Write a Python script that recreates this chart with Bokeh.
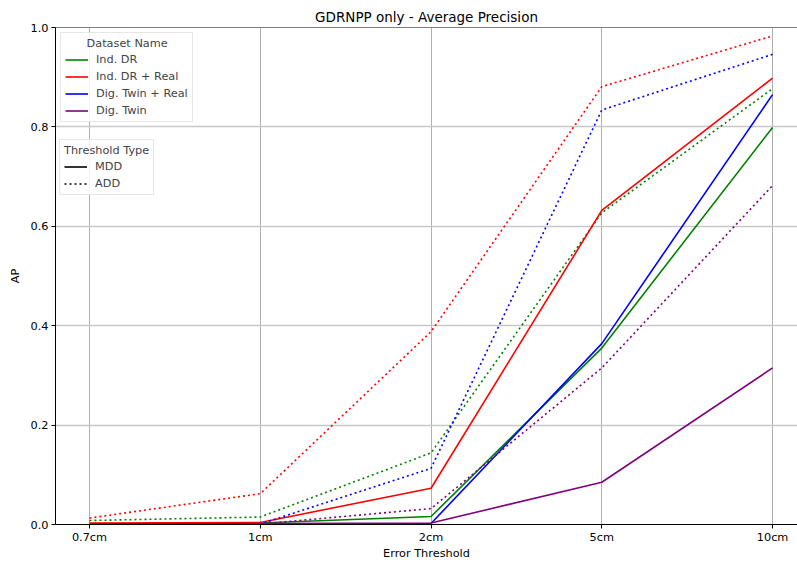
from bokeh.plotting import figure
from bokeh.models import Range1d, FixedTicker, Legend, LegendItem, Span, NumeralTickFormatter
from bokeh.embed import file_html
from bokeh.resources import INLINE

thresholds = ["0.7cm", "1cm", "2cm", "5cm", "10cm"]
datasets = ["Ind. DR", "Ind. DR + Real", "Dig. Twin + Real", "Dig. Twin"]
colors = ["green", "red", "blue", "purple"]

ind_dr_mdd = [0.001, 0.003, 0.016, 0.355, 0.799]
ind_dr_real_mdd = [0.003, 0.004, 0.073, 0.632, 0.898]
dig_twin_real_mdd = [0.0, 0.0, 0.002, 0.364, 0.865]
dig_twin_mdd = [0.0, 0.002, 0.003, 0.085, 0.315]

ind_dr_add = [0.008, 0.015, 0.144, 0.627, 0.877]
ind_dr_real_add = [0.013, 0.062, 0.388, 0.881, 0.983]
dig_twin_real_add = [0.0, 0.001, 0.113, 0.834, 0.946]
dig_twin_add = [0.0, 0.001, 0.032, 0.315, 0.682]

mdd_series = [ind_dr_mdd, ind_dr_real_mdd, dig_twin_real_mdd, dig_twin_mdd]
add_series = [ind_dr_add, ind_dr_real_add, dig_twin_real_add, dig_twin_add]

FONT = "DejaVu Sans"
FS = "11.3px"

p = figure(width=797, height=563, output_backend="svg", toolbar_location=None,
           x_range=Range1d(-0.199, 4.146), y_range=Range1d(0, 1.0),
           min_border_left=55, min_border_right=0, min_border_top=27, min_border_bottom=39,
           title="GDRNPP only - Average Precision")
p.outline_line_color = None
p.title.align = "center"
p.title.text_font = FONT
p.title.text_font_size = "13.5px"
p.title.text_font_style = "normal"
p.title.text_color = "black"
p.title.standoff = 5

xs = list(range(len(thresholds)))
solid_renderers = []
for name, col, m, a in zip(datasets, colors, mdd_series, add_series):
    r = p.line(xs, m, line_color=col, line_width=1.6)
    solid_renderers.append(r)
    p.line(xs, a, line_color=col, line_width=1.6, line_dash="2 3")

# off-screen proxies for the threshold-type legend
r_mdd = p.line([-5, -4], [-5, -5], line_color="black", line_width=1.6)
r_add = p.line([-5, -4], [-5, -5], line_color="black", line_width=1.6, line_dash="2 3")

for ax in (p.xaxis[0], p.yaxis[0]):
    ax.axis_line_color = "black"
    ax.axis_line_width = 1
    ax.major_tick_line_color = "black"
    ax.major_tick_out = 4
    ax.major_tick_in = 0
    ax.minor_tick_line_color = None
    ax.major_label_text_font = FONT
    ax.major_label_text_font_size = FS
    ax.major_label_text_color = "black"
    ax.axis_label_text_font = FONT
    ax.axis_label_text_font_size = FS
    ax.axis_label_text_font_style = "normal"
    ax.axis_label_text_color = "black"
    ax.major_label_standoff = 3

p.xaxis.major_label_standoff = 2
p.xaxis.axis_label_standoff = 0
p.xaxis.ticker = FixedTicker(ticks=xs)
p.xaxis.major_label_overrides = {i: t for i, t in zip(xs, thresholds)}
p.xaxis.axis_label = "Error Threshold"
p.yaxis.ticker = FixedTicker(ticks=[0.0, 0.2, 0.4, 0.6, 0.8, 1.0])
p.yaxis.formatter = NumeralTickFormatter(format="0.0")
p.yaxis.axis_label = "AP"
p.yaxis.axis_label_standoff = 6

p.xgrid.grid_line_color = "#b0b0b0"
p.xgrid.grid_line_width = 1
p.ygrid.grid_line_color = "#c8c8c8"
p.ygrid.grid_line_width = 1.3

p.add_layout(Span(location=1.0, dimension="width", line_color="black", line_width=1))

nb = "\u00a0"
leg1 = Legend(items=[LegendItem(label=n, renderers=[r]) for n, r in zip(datasets, solid_renderers)],
              title=nb * 6 + "Dataset Name", location="top_left")
leg1.margin = 5
leg2 = Legend(items=[LegendItem(label="MDD", renderers=[r_mdd]), LegendItem(label="ADD", renderers=[r_add])],
              title="Threshold Type", location=(4, 329))
leg2.margin = 0
for lg in (leg1, leg2):
    lg.label_text_font = FONT
    lg.label_text_font_size = FS
    lg.title_text_font = FONT
    lg.title_text_font_size = FS
    lg.title_text_font_style = "normal"
    lg.label_height = 13
    lg.glyph_height = 13
    lg.glyph_width = 23
    lg.label_standoff = 8
    lg.spacing = 4
    lg.padding = 4
    lg.title_standoff = 3
    lg.border_line_color = "#d0d0d0"
    lg.border_line_width = 1
    lg.background_fill_alpha = 0.85
    p.add_layout(lg)

open("out.html", "w").write(file_html(p, INLINE))
